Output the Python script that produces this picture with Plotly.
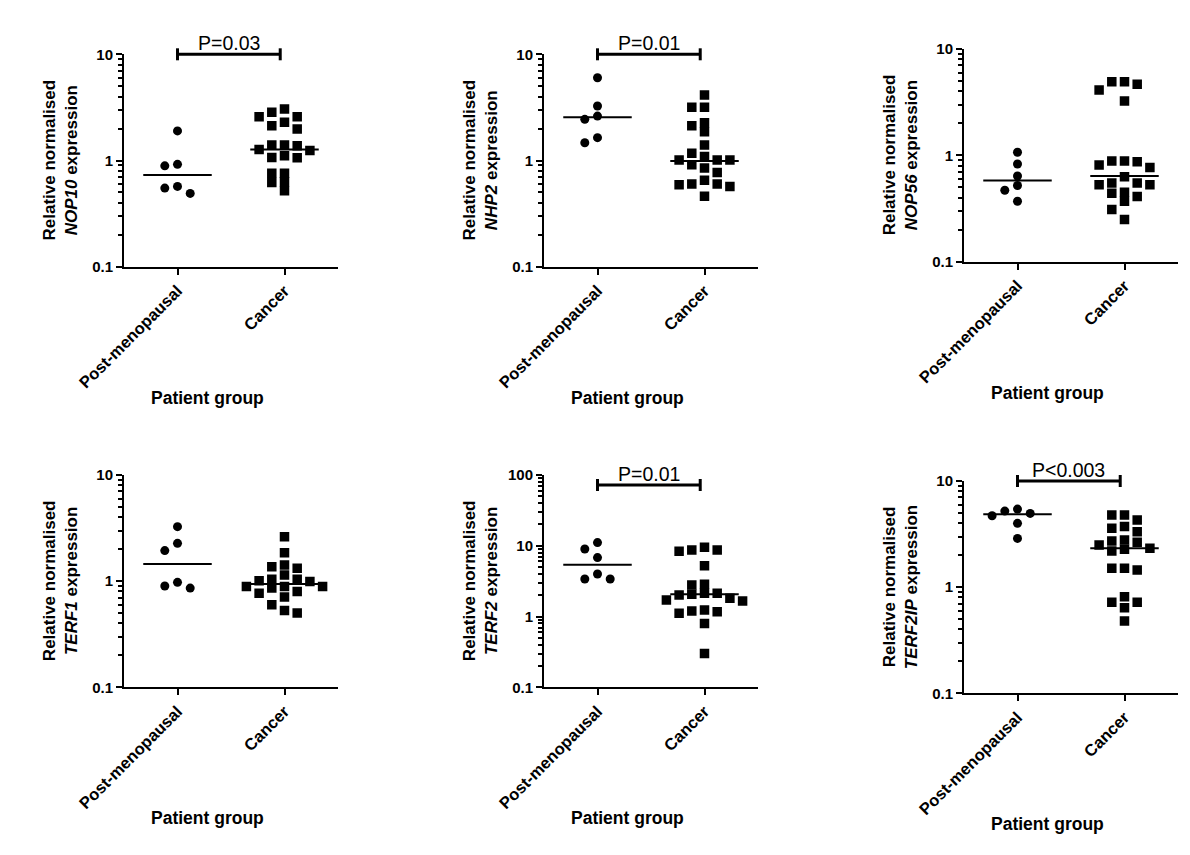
import numpy as np
import plotly.graph_objects as go

W, H = 1190, 855

# ---------------- data ----------------
groups = ["Post-menopausal", "Cancer"]
genes = ["NOP10", "NHP2", "NOP56", "TERF1", "TERF2", "TERF2IP"]
p_labels = ["P=0.03", "P=0.01", None, None, "P=0.01", "P<0.003"]

nop10_post = [1.90, 0.92, 0.89, 0.57, 0.49, 0.55]
nop10_cancer = [3.05, 2.84, 2.58, 2.58, 2.29, 2.13, 1.98, 1.40, 1.40, 1.38, 1.27,
                1.24, 1.11, 1.07, 1.06, 0.76, 0.76, 0.63, 0.62, 0.52]

nhp2_post = [6.02, 3.26, 2.62, 2.44, 1.64, 1.47]
nhp2_cancer = [4.14, 3.17, 3.17, 2.27, 2.13, 1.87, 1.40, 1.17, 1.09, 1.01, 1.01,
               1.01, 0.91, 0.85, 0.77, 0.65, 0.60, 0.60, 0.59, 0.57, 0.46]

nop56_post = [1.07, 0.83, 0.64, 0.52, 0.47, 0.37]
nop56_cancer = [4.93, 4.93, 4.65, 4.11, 3.24, 0.885, 0.885, 0.87, 0.81, 0.77, 0.63,
                0.55, 0.55, 0.53, 0.53, 0.45, 0.44, 0.41, 0.37, 0.31, 0.25]

terf1_post = [3.26, 2.27, 1.94, 0.975, 0.90, 0.86]
terf1_cancer = [2.62, 1.85, 1.42, 1.37, 1.32, 1.14, 1.04, 1.04, 1.01, 0.99, 0.89,
                0.89, 0.89, 0.86, 0.80, 0.77, 0.71, 0.60, 0.53, 0.50]

terf2_post = [11.1, 9.0, 6.8, 3.99, 3.39, 3.39]
terf2_cancer = [9.5, 8.7, 8.7, 8.4, 5.2, 2.85, 2.79, 2.13, 2.13, 2.06, 2.01,
                1.81, 1.71, 1.66, 1.24, 1.20, 1.17, 1.11, 0.80, 0.30]

terf2ip_post = [5.44, 5.21, 4.95, 4.71, 3.99, 2.88]
terf2ip_cancer = [4.79, 4.79, 4.30, 3.72, 3.59, 3.33, 2.78, 2.72, 2.65, 2.50, 2.32,
                  2.28, 2.19, 1.51, 1.51, 1.45, 0.81, 0.72, 0.72, 0.64, 0.48]

post_medians = [0.73, 2.55, 0.58, 1.45, 5.4, 4.85]
cancer_medians = [1.27, 0.99, 0.64, 0.94, 2.06, 2.32]

y_ticks_small = [0.1, 1, 10]
y_ticks_large = [0.1, 1, 10, 100]
y_tick_sets = [y_ticks_small, y_ticks_small, y_ticks_small,
               y_ticks_small, y_ticks_large, y_ticks_small]

post_sets = [nop10_post, nhp2_post, nop56_post, terf1_post, terf2_post, terf2ip_post]
cancer_sets = [nop10_cancer, nhp2_cancer, nop56_cancer, terf1_cancer, terf2_cancer, terf2ip_cancer]

# ---------------- layout geometry (pixels) ----------------
panels = [
    (124, 338, 54.3, 266.7),
    (544, 758, 54.3, 266.7),
    (964, 1178, 49.0, 261.7),
    (124, 338, 475.0, 687.3),
    (544, 758, 475.0, 687.3),
    (964, 1178, 481.0, 693.3),
]
bracket_offset_px = [0, 0, None, None, 10, 0]

FONT = "Arial, Liberation Sans, sans-serif"
COL_SPACING_PX = 12.7
CIRCLE_SIZE = 9
SQUARE_SIZE = 9.5


def swarm(values, px_per_decade, thr=8.5):
    vals = np.asarray(values, dtype=float)
    order = np.argsort(-vals, kind="stable")
    placed = []
    cols = np.zeros(len(vals))
    cand = [0, -1, 1, -2, 2, -3, 3, -4, 4]
    for i in order:
        py = np.log10(vals[i]) * px_per_decade
        for c in cand:
            if all(abs(py - q) >= thr for (cc, q) in placed if cc == c):
                cols[i] = c
                placed.append((c, py))
                break
    return cols


fig = go.Figure()
annotations = []
shapes = []

for k in range(6):
    n = k + 1
    xs = "" if n == 1 else str(n)
    xname, yname = "x" + xs, "y" + xs
    x0p, x1p, ytp, ybp = panels[k]
    wpx = x1p - x0p
    hpx = ybp - ytp
    ticks = y_tick_sets[k]
    lo, hi = np.log10(ticks[0]), np.log10(ticks[-1])
    ppd = hpx / (hi - lo)
    unit_px = wpx / 2.0
    dx = COL_SPACING_PX / unit_px

    for gi, (vals, sym, sz) in enumerate([(post_sets[k], "circle", CIRCLE_SIZE),
                                          (cancer_sets[k], "square", SQUARE_SIZE)]):
        cols = swarm(vals, ppd)
        fig.add_trace(go.Scatter(
            x=gi + cols * dx, y=vals, mode="markers",
            marker=dict(symbol=sym, size=sz, color="black", line=dict(width=0)),
            xaxis=xname, yaxis=yname, showlegend=False, hoverinfo="y"))

    meds = [post_medians[k], cancer_medians[k]]
    mx, my = [], []
    for gi, m in enumerate(meds):
        mx += [gi - 0.32, gi + 0.32, None]
        my += [m, m, None]
    fig.add_trace(go.Scatter(x=mx, y=my, mode="lines",
                             line=dict(color="black", width=2),
                             xaxis=xname, yaxis=yname, showlegend=False, hoverinfo="skip"))

    minor_vals = []
    for d in range(int(round(lo)), int(round(hi))):
        for j in range(2, 10):
            minor_vals.append(j * 10.0 ** d)

    fig.update_layout(**{
        ("xaxis" + xs): dict(
            domain=[x0p / W, x1p / W], anchor=yname, range=[-0.5, 1.5],
            tickmode="array", tickvals=[0, 1], ticktext=groups, tickangle=-45,
            ticks="outside", ticklen=6, tickwidth=2, tickcolor="black",
            showline=True, linewidth=2, linecolor="black",
            showgrid=False, zeroline=False, automargin=False,
            tickfont=dict(family=FONT, size=16.5, color="black", weight="bold"),
        ),
        ("yaxis" + xs): dict(
            domain=[1 - ybp / H, 1 - ytp / H], anchor=xname, type="log", range=[lo, hi],
            tickmode="array", tickvals=ticks, ticktext=[("%g" % t) for t in ticks],
            ticks="outside", ticklen=6, tickwidth=2, tickcolor="black",
            minor=dict(tickmode="array", tickvals=minor_vals, ticks="outside",
                       ticklen=4, tickwidth=1.5, tickcolor="black", showgrid=False),
            showline=True, linewidth=2, linecolor="black",
            showgrid=False, zeroline=False, automargin=False,
            tickfont=dict(family=FONT, size=15, color="black", weight="bold"),
        ),
    })

    # y-axis title
    annotations.append(dict(
        text="Relative normalised<br><i>%s</i> expression" % genes[k],
        xref="paper", yref="paper", x=(x0p - 64) / W, y=1 - (ytp + ybp) / 2 / H,
        xanchor="center", yanchor="middle", textangle=-90, showarrow=False,
        font=dict(family=FONT, size=17, color="black", weight="bold")))
    # x-axis title
    annotations.append(dict(
        text="Patient group", xref="paper", yref="paper",
        x=((x0p + x1p) / 2 - 24) / W, y=1 - (ybp + 131) / H,
        xanchor="center", yanchor="middle", showarrow=False,
        font=dict(family=FONT, size=17.5, color="black", weight="bold")))

    # significance bracket
    if p_labels[k] is not None:
        yb = 1 - bracket_offset_px[k] / hpx
        tick = 6.0 / hpx
        xr, yr = xname, yname + " domain"
        ln = dict(color="black", width=3)
        shapes.append(dict(type="line", xref=xr, yref=yr, x0=0, x1=0.96, y0=yb, y1=yb, line=ln))
        shapes.append(dict(type="line", xref=xr, yref=yr, x0=0, x1=0, y0=yb - tick, y1=yb + tick, line=ln))
        shapes.append(dict(type="line", xref=xr, yref=yr, x0=0.96, x1=0.96, y0=yb - tick, y1=yb + tick, line=ln))
        annotations.append(dict(
            text=p_labels[k], xref=xr, yref=yr, x=0.48, y=yb,
            xanchor="center", yanchor="bottom", yshift=-2, showarrow=False,
            font=dict(family=FONT, size=19.5, color="black")))

fig.update_layout(
    width=W, height=H, autosize=False,
    margin=dict(l=0, r=0, t=0, b=0, pad=0, autoexpand=False),
    paper_bgcolor="white", plot_bgcolor="white",
    showlegend=False,
    annotations=annotations, shapes=shapes,
)

fig.write_html("out.html")
